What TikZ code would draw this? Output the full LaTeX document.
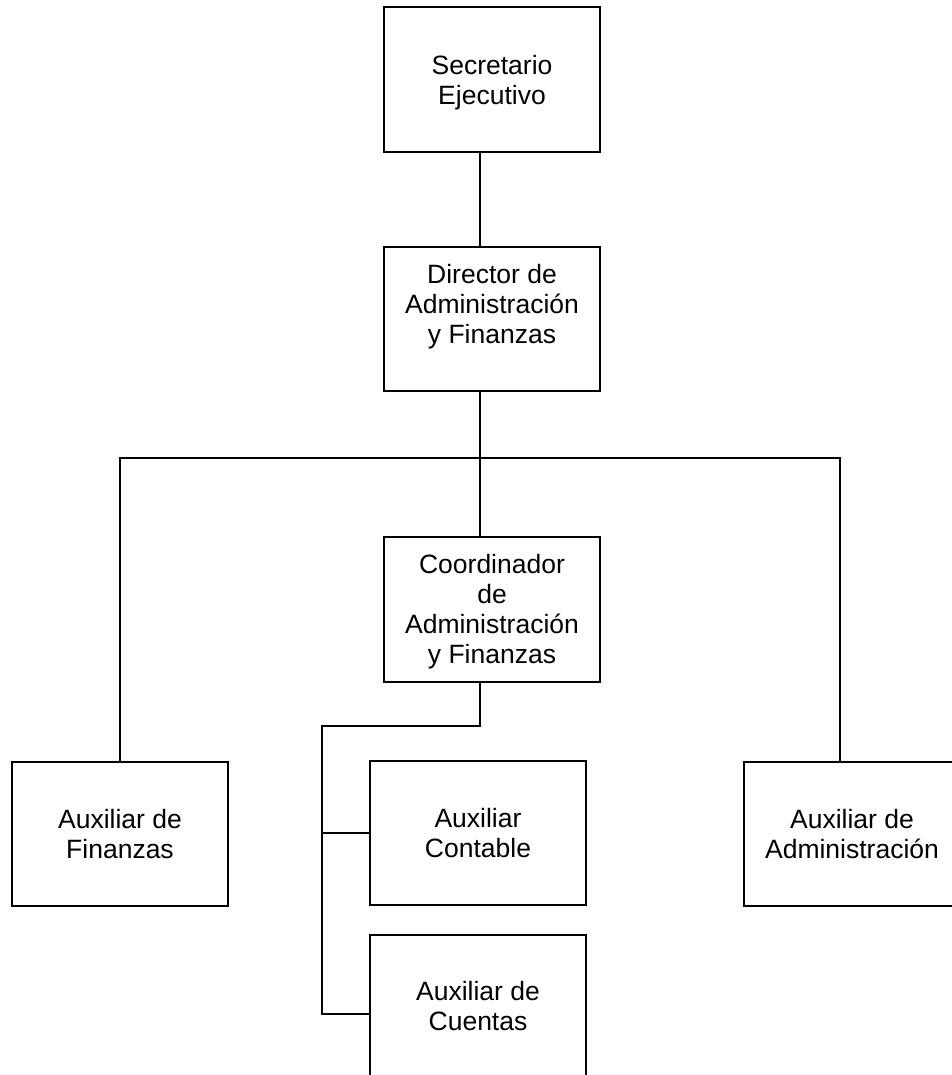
\documentclass[tikz,border=0pt]{standalone}
\usepackage{fontspec}
\setmainfont{Liberation Sans}
\newcommand{\orgtext}[3]{\parbox[c][#1][t]{216pt}{\centering\rule{0pt}{#2}#3}}
\begin{document}
\begin{tikzpicture}[x=1pt,y=1pt,
  orgbox/.style={draw=black, line width=1.6pt, fill=white, inner sep=0pt, outer sep=0pt,
    font=\fontsize{26.5}{30}\selectfont},
  link/.style={draw=black, line width=1.6pt}]
\useasboundingbox (0,0) rectangle (951,-1075);
\fill[white] (0,0) rectangle (951,-1075);
% boxes
\node[orgbox] (sec)   at (492,-79.5)  {\orgtext{145pt}{68pt}{Secretario\\Ejecutivo}};
\node[orgbox] (dir)   at (492,-319)   {\orgtext{144pt}{36pt}{Director de\\Administración\\y Finanzas}};
\node[orgbox] (coord) at (492,-609.5) {\orgtext{145pt}{36pt}{Coordinador\\de\\Administración\\y Finanzas}};
\node[orgbox] (finz)  at (120,-834)   {\orgtext{144pt}{66pt}{Auxiliar de\\Finanzas}};
\node[orgbox] (cont)  at (478,-833)   {\orgtext{144pt}{66pt}{Auxiliar\\Contable}};
\node[orgbox] (cuent) at (478,-1014)  {\orgtext{158pt}{65pt}{Auxiliar de\\Cuentas}};
\node[orgbox] (adm)   at (852,-834)   {\orgtext{144pt}{66pt}{Auxiliar de\\Administración}};
% junction points
\coordinate (bus) at (480,-458);
\coordinate (admin) at ([xshift=-12pt]adm.north);
\coordinate (sub) at (322,-726);
% connectors
\draw[link] (bus |- sec.south) -- (bus |- dir.north);
\draw[link] (bus |- dir.south) -- (bus |- coord.north);
\draw[link] (finz.north) |- (bus) -| (admin);
\draw[link] (bus |- coord.south) |- (sub) |- (cuent.west);
\draw[link] (sub |- cont.west) -- (cont.west);
\end{tikzpicture}
\end{document}
